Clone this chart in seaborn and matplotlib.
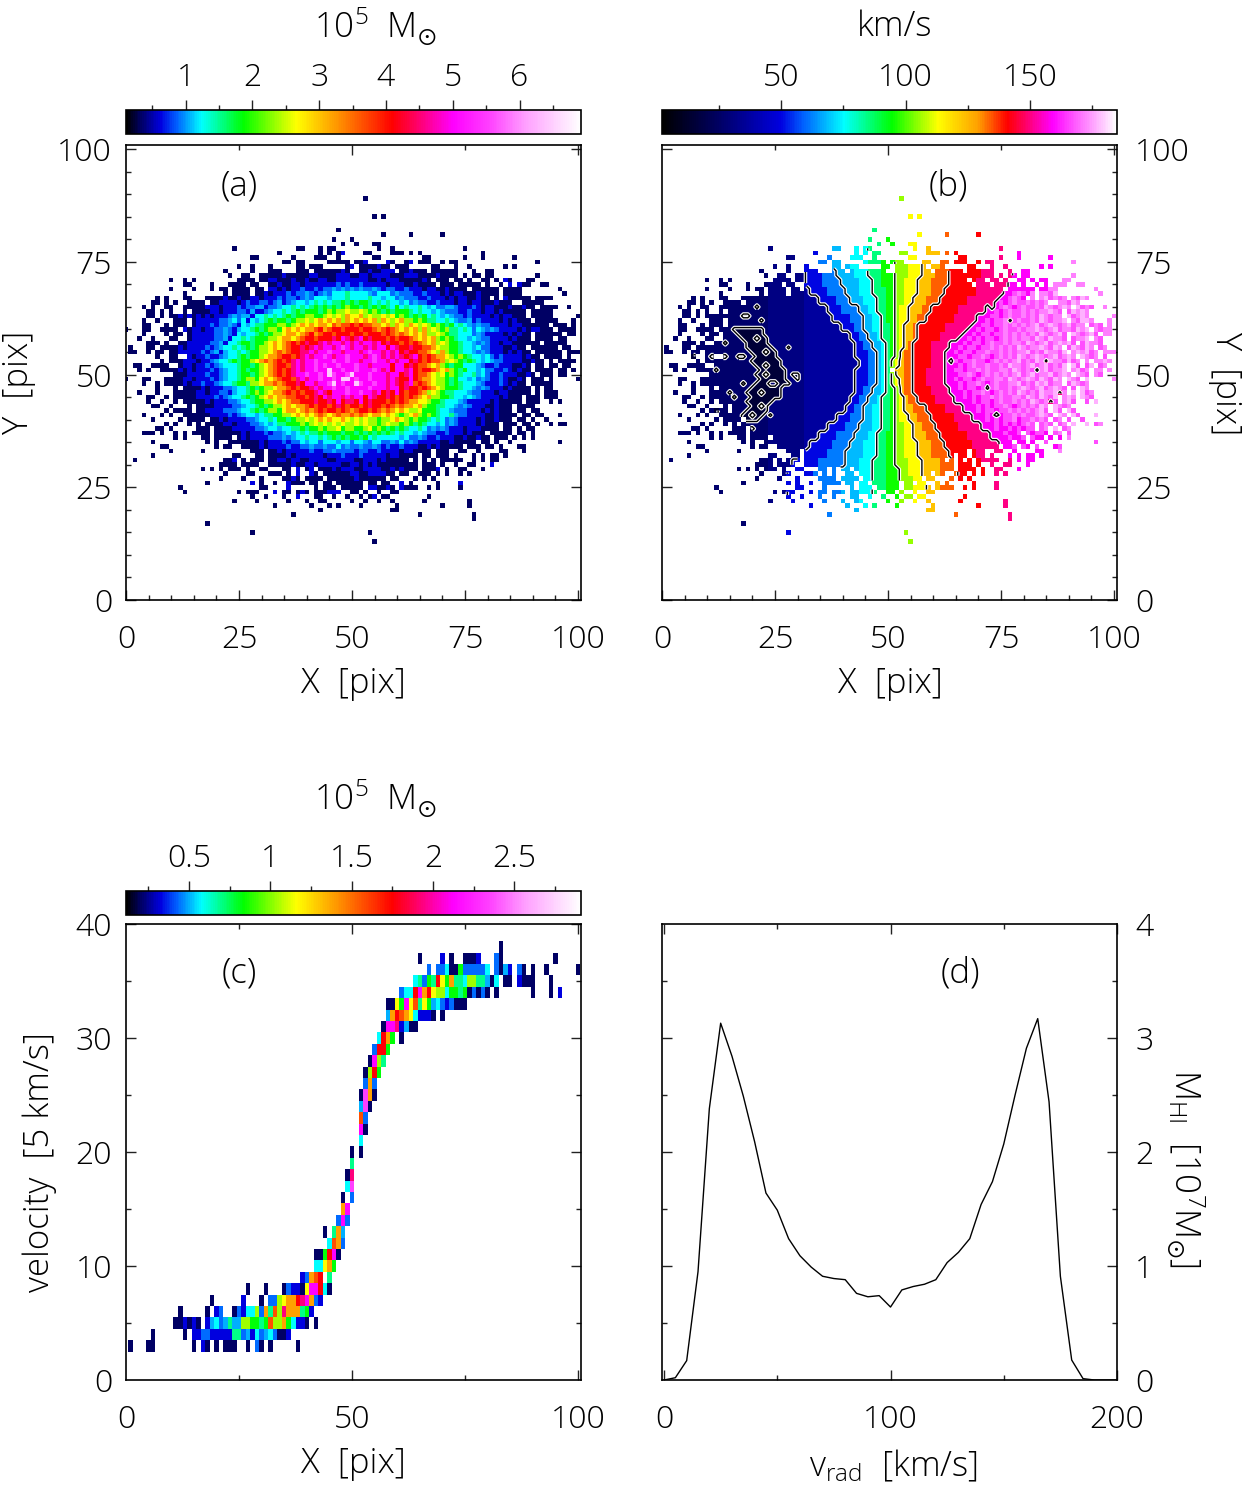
import numpy as np
import matplotlib
matplotlib.use('Agg')
import matplotlib.pyplot as plt
import seaborn as sns
from matplotlib.colors import LinearSegmentedColormap
from matplotlib.transforms import Affine2D

sns.set_style('white')
plt.rcParams['font.family'] = ['Open Sans', 'DejaVu Sans']
plt.rcParams['font.weight'] = 'light'
plt.rcParams['mathtext.fontset'] = 'custom'
plt.rcParams['mathtext.rm'] = 'Open Sans:light'
plt.rcParams['mathtext.default'] = 'regular'
plt.rcParams['text.color'] = 'black'
plt.rcParams['xtick.labelcolor'] = 'black'
plt.rcParams['ytick.labelcolor'] = 'black'

# letter codes used in the cell tables, as a place on the colour bar
LEVEL_FRAC = {'n': .035, 'b': .075, 'a': .115, 'l': .14, 'c': .165, 't': .21, 'g': .257, 'y': .33,
              'Y': .374, 'o': .455, 'f': .52, 'r': .586, 'm': .65, 'M': .72, 'p': .80, 'w': .93}
MASS_RANGE = (0.107, 6.92)
PV_RANGE = (0.112, 2.91)
VEL_RANGE = (2.07, 185)

# panel (a), outskirts: Y -> (first X, cells)
MASS_ROWS = {
    89: (53, "n"),
    85: (55, "n.n"),
    82: (47, "n"),
    81: (57, "n.....n......n"),
    80: (46, "n...n"),
    79: (48, "n..n...nn"),
    78: (24, "n.............nn...n.nn.........n..n...............n"),
    77: (34, "n........n.n.nb....nn....nnn.n.n.............n"),
    76: (28, "nn.......n....nnn..n.......nn.........nn.......n...n......n"),
    75: (35, "nn.nn.....nnnnn.nnb....bn..nb.nnn..n.nn.................n"),
    74: (25, "n..n...n.....nn.nnn.....nb.nnnnbnn.nnn.....nn...n..n.......n.n"),
    73: (22, "n.....n...nnn...nnn.nnnnnnbn..nnbnnbbb.nnbnnn.nnnnnn...n..nn"),
    72: (23, "n..nn..nnnnnbnnnnnbbnnnnbbbnnbbnbbbbnnnbbbnnnnbnnnn.n.nn.nn.........n"),
    30: (21, "nnnn.nnnn..nnnnnbnnbbnbbbbbnnbbnbnbnnnnnnnnn.nnn.n..n..nn...b"),
    29: (17, "n.n.n.nnn.n..nn...nn.b.nb.nnnbnbbbnnbbbbnnbnbnnn.nnnb.n..nn...n"),
    28: (22, "n....nn...nnn.n.b..bn.nnnnnnbbnnbbbbnn.nn..nnn.n.n..n.n"),
    27: (21, "n....n...n....nnbn.nnnn.nnnnnnbnnnnnn.nn...n.n.n"),
    26: (18, "n.........b.n..n..bnnn.nn.nn.nnnnnn.nn.nn..b.n.....n....b"),
    25: (12, "n.................nn....b.....n.nnn.nnnnn.bbnnbn.bnnn..n.n....n"),
    24: (13, "n...........n.nnn...b.nn.nbn.nnnbbb..nn.n..n..nn"),
    23: (28, "n..n...n..b...nn..n..n..n.nb.nn........n"),
    22: (24, "n....n......n...n..nn.....n..n..n..n......n.........n"),
    21: (33, "n.......n...n.n....n.......n.........n.....n"),
    20: (43, "n...............nn"),
    19: (37, "n...........................n...........n"),
    18: (77, "n"),
    17: (18, "n"),
    15: (28, "n.........................n"),
    13: (55, "n"),
}

# panel (a), main body: Y -> cells left of X=50.5 | cells right of it
CORE_ROWS = {
    71: "n..n.n.........nnnn.nnbbnnnbnnbnnbbnnbbbb|bbbnnbnbbbnnnnnbn.nnn.nn.n..nn.n.bn...nn..........n",
    70: "nn....n...nnnn.nn..nnbnnbbnbbbbbbbabab|babbbbbnbbbnnbnnnn.nnn.nnnnn.n..n.b.bnn..nn",
    69: "n....n...n.nn.nnnn.nn.bbnbnbbabbabaalalal|alaalabaabbabbbnbbnnbnnnn.nnnnnn.nnnn........n",
    68: "n........n.nnnn.nnbnbbbabaalabalaccctc|ccclacccalaaabbabbbnbnbbnnnbnnnn.nnnn.........n",
    67: "n.n...nn...nnnnbnnbnnbbnbbbabaabalaccclccctc|ccctcclccalaaabbabbbnbnbbnnbnn.n.bnnnnn.nnnn",
    66: "nn.n.n..nnnn.nnbbbbnbabbaabalbalcclctctcttgtg|tggtctctcclcalaabbabbbnbbnbbnnnbnnn..nnnnn",
    65: "n.n..nn..nnnnnbbbnbbbabaallbaalcctctctgtgtgtgyg|gtgtgtgtcgctcctclcaallabbbabnbbnnnbnnbnn.nnnn..n",
    64: "nn.n.n..n.nnnnbbnbbbaablbbalcctctgtgggtgygyyYy|yYygygtgtgggtctcclclaaabbabbnbbnbnnnnn.nnnnn",
    63: "nn.n.nnbnbnbnbnbbbalallbcctctctgtggyyggyYyYyoY|YoyYyyYyYgygtgtgctclclaababbbbnbnbbnnn.nnnnn.....n",
    62: "n..n...nnn.nbbbbbaalcacbclctgtggtgyyYyYoYoYoyoY|oYoYoyoYyYoyygygttcctclaalbabbbbnbnbnnn.nnnnn...n",
    61: "nn...n.nnn.nbbbabaalabclcttgggyygyYoYoYooYfoffr|frffooYoyoYyoYyYygygtgctclalaabbbbnbbnnnnnn.nnn.n.nn",
    60: "n...nn..nnnn.bnbbnbbaalablcctgtgyygYoYoYoofrofrrfrr|rfrrfofrfoYoYoyoyYygyttctcaclalabbbbnbnbbnnn.nnnn.nn",
    59: "n....n.nn.nbbbbbaalabclcctgtgyyYooYofrofrrfrrrf|rrfrrrfrfofoYoYoyyYygttcccalabbbbnbnbnn.nnnnnn.nn",
    58: "n..n...nn..nbbbbbaalbcctctgggyyYooYofrrfrrrmrMmr|mMrmrrrfrfrrfoYoYoygygtcclclaabbbbnbnnn.nnnn.nn...n.n",
    57: "nnn.n..nnbbbbbaalbcctggtggyYoYofrfrmrrmMmMMmMm|MmMMmMrmrrfrfrfoYoyYyggtcclalabbnbbnnnnnn.nnnnn",
    56: "n...nn.nnnnbnbbbbabalcctctgtgyyYoYofrrmrmMmMMmMpMm|MMmMmMMrMmrrmrrffoYyyggtcclcaabbbnnbnn.nnnnnn.nn",
    55: "nn..n.nn.nnbbbbbabalblcctctggyyYofofrrmmMmMMpMMmMM|MmMpMMmMmMrmrrffoYyoyggtcclalabbbnbnbnn.nnnnnn.nnnn",
    54: "n..nn..bnbbabbalcctgtggyYoofrrfrmMmMMpMmMMpM|MMmMpMmMmMmrmMrfrfooYygygtcclcababbbbnbnn.nnnn.n",
    53: "n.nnnbbbnbbalcctgtggyYofofrfrmMmMMpMMMpMMpM|MmMMpMMmMmMMrmrfrffoyYygtgtclclaabbbbnnbnn.n.nnnn",
    52: "nn..nnnn..nbbnbbabalccctggtgyYofrrfmMmMMpMpMMpMMM|pMMmMMMMrMMrmrffoYoygtggccclabbabbbnnbn.nn.nn.nn",
    51: "n.n..nnnnbnbnbbbabalcctgtggyYofrfrmMmMMpMMwMMpMM|pMMMpMmMrMMmMrfrrfoYoygtgcclcaabbabnbnn.nnnn.nn.n",
    50: "nnnbbbbabbalcctggtgyYofrfrmMMpMMpMwpMMpw|MMMpMMMmMMrmMrffoYyYgygtcctlcabbabbbnnbn.nnn.nn",
    49: "n...nn...nnnnbbnbbbabalcctgyygYoYofrrfmMmMMpMMpMwwM|pMMpMMMmMmrrMrfooYyygtgcclcalabbabnnbn.nnn.n.....n",
    48: "n..n.nnnnbnbbabbalcctggtyyYoofofrrmrMMmMMpwMpMM|wpMMpMMmMmrmMfrfoYyygtgtccclabbbabnbnn.nnnnn",
    47: "n...n.nnnnbnbbbaalcctgtgyyYoofrfrrmMmMMpMMpM|MMMpMMMmMMrmrrfrfoYygggtcclalabbbnbnnnn.n.nn",
    46: "n...n...nnnnnbbnbbaablcctgygyYoofrfrfrrmMmrMMMpM|MpMMmMrmrMrfrrfoyYygttccclaabbbnbbnnnnn.n.nnn",
    45: "nn..n.nnnnnbbbbabalcctgtgyYoYooffrrfrmrMmMMmMm|MMrMmrrmrfrfrfoYoyyggtcclclabbbbnbnnn.nnn.nnn",
    44: "n..n..n.nnnnnbnbbbaalcctggyyYoYoffrrrmrrmrMrmm|rMrmrrrfrfrfooYYyggtccclabbbbbnbnnnnn.nnn..n.n",
    43: "nn..n...n.nnnnbbbbaalcctgtgyyYoYoofrfrrfrmrfr|rfrmrrfrfofooYoyggttcclalabbbnnbnnn.nnnn",
    42: "n.nnnn.nnbbbbaaalcctgtgyygYooYofofrfrrfrfo|frrfrfofoYoYyyYgggtcclaaabbbnbnbnnn.nn.nn",
    41: "n...n.n..nnnnnnbbbbabalcclcttggyyYoYoYofoYofoof|ofoYooYoYygyYoygygtcctlaabbbbnnbnnnn.nn.nn...n",
    40: "n.....n.nnnn.nnbnbbbbaalcctcggtgyyYyYoYoYYoYy|YyYyygyyYoYygyggtctcalabbbbnbnnbnnn.nn.n..n",
    39: "n.n..n.n.nnnnbbnbbbaalclcttgggygyYyYyYyYyy|YyYyygyYyygygtgtcclcalabbbbnbnnn.nnn.nn.n..n.nn",
    38: "nn.n.....nnn.nnnnbbbbbaalcclccttgtggygyyYgyy|ggyYgygtgtgtcctcalalabbbnbbbnnnn.nn.n.nn",
    37: "nnn.n..n.n.nnnn.nnnnnnbnbbbabaalclctcttgtgggtgg|tgtgtgtgtctcclclaabbabbbnbnnn.nnnnn.nn.n",
    36: "n.n...nn.nnnn.nbnbbbbaaalalcctcctctgtgtg|gtgctccccclcaalabbabbbnnbnnbnn.nnn.n.n.n",
    35: "n...........n.n..nnnnnnnbnbbbabaaclccaccclcca|cclaccaalacalabbbbbnnbnnnnn.nn.n..n..........n",
    34: "nn..........n.nn..nnnnbnbbbbabbaalaalaacala|alaalababbabbbnnbnbnnnnn.nnn.nn.n...nn",
    33: "n......n..........nnn.nnbnbbbbbabbaalaaaa|baabbabbbbnbbnnnn.nnn..nn..n....nn...n",
    32: "n.................nn...nn.nnnnbnbbbbbbnbbbabb|babbbbbnbbnnnn.nn.nnn.n...n.n.nn.n",
    31: "n...................nnb.n.nnn.nnbbnbbnnbbbbnnbbbb|nnbbbnbnnnnn.n.n.n.nnnnn..n.n.nn",
}

# panel (b): band letters, and for rows of Y the X where each band starts
VEL_BANDS = ['b', 'a', 'l', 'c', 't', 'g', 'y', 'Y', 'o', 'f', 'r', 'm', 'M', 'p']
BAND_SPEED = {'k': 15, 'n': 27, 'e': 31, 'N': 37, 'b': 50, 'a': 62, 'l': 68, 'c': 75, 't': 85, 'g': 95,
              'y': 105, 'Y': 113, 'o': 123, 'f': 134, 'r': 141, 'm': 150, 'M': 159, 'q': 167, 'p': 172, 'w': 177}
BAND_EDGES = {
    77: [32, 35, 38, 42, 46, 49, 52, 55, 59, 62, 65, 71, 78, 88],
    75: [32, 35, 38, 42, 46, 49, 52, 55, 58, 62, 65, 71, 78, 88],
    73: [32, 36, 39, 43, 46, 49, 52, 55, 58, 61, 64, 71, 78, 88],
    71: [32, 36, 40, 44, 47, 49, 52, 54, 57, 60, 64, 70, 77, 87],
    69: [33, 37, 41, 44, 47, 50, 52, 54, 57, 60, 63, 70, 76, 86],
    67: [35, 39, 42, 45, 48, 50, 52, 54, 56, 59, 62, 68, 75, 85],
    65: [37, 40, 44, 46, 48, 50, 52, 53, 55, 58, 60, 66, 72, 83],
    63: [38, 42, 45, 47, 49, 50, 52, 53, 55, 57, 59, 65, 70, 82],
    61: [40, 43, 45, 47, 49, 51, 52, 53, 54, 56, 57, 63, 69, 81],
    59: [42, 44, 46, 48, 49, 51, 52, 53, 54, 56, 57, 62, 67, 80],
    57: [43, 45, 47, 49, 50, 51, 52, 53, 54, 55, 56, 60, 64, 78],
    55: [43, 46, 48, 49, 50, 51, 52, 53, 53, 54, 56, 60, 63, 77],
    53: [44, 46, 48, 49, 50, 51, 51, 52, 53, 54, 56, 60, 63, 76],
    51: [43, 46, 48, 49, 50, 51, 51, 52, 52, 54, 56, 59, 63, 76],
    49: [43, 46, 48, 49, 50, 51, 51, 52, 53, 54, 56, 59, 63, 76],
    47: [43, 45, 47, 49, 50, 51, 52, 53, 53, 54, 56, 60, 64, 77],
    45: [42, 44, 46, 48, 49, 51, 52, 53, 54, 55, 57, 61, 65, 78],
    43: [41, 43, 45, 47, 49, 51, 52, 53, 54, 56, 59, 63, 67, 79],
    41: [39, 42, 45, 47, 49, 51, 52, 53, 55, 57, 60, 65, 69, 81],
    39: [37, 41, 44, 47, 49, 51, 52, 54, 56, 58, 61, 66, 71, 83],
    37: [35, 39, 43, 46, 48, 50, 52, 54, 56, 59, 62, 68, 73, 84],
    35: [33, 38, 42, 45, 48, 50, 52, 54, 57, 60, 63, 69, 75, 86],
    33: [32, 37, 41, 45, 48, 50, 52, 54, 57, 60, 64, 70, 77, 87],
    31: [29, 35, 41, 44, 47, 50, 52, 55, 58, 62, 65, 71, 78, 88],
    29: [28, 34, 40, 44, 47, 50, 53, 55, 58, 62, 66, 72, 79, 89],
    27: [28, 34, 40, 44, 47, 50, 53, 56, 59, 62, 66, 72, 79, 89],
}
# mottled receding side of panel (b): Y -> (first X, cells)
PINK_ROWS = {
    68: (78, "qpqMpqppqwpqpp"),
    67: (76, "MqpqMqpqpwqpqpppqwpqp"),
    66: (74, "MqMqpqqpqpqpwqppqwpqqpwqp"),
    65: (73, "MMqpqMqpqqpqwpqpwpqwqpqp"),
    64: (72, "MMqMqpqqpqpqppwpqpqwpwpqpqp"),
    63: (71, "MMqqMqpqqpqpqwpqppqwqpwpqppq"),
    62: (70, "MMqMqqpqqpqqpqwpqppwqpqwwpqpp"),
    61: (70, "MqqMqqpqpqpqpwqpwpqpwqppwqpqp"),
    60: (68, "MMqMqqMqpqqpqppwpqpwqppqwpwqpqp"),
    59: (68, "MqMqqMqqpqpqpqpqwpqpwqpwpqpwqpp"),
    58: (66, "MMqMqMqqMqpqpqppqwpqwppqwqppwqpqp"),
    57: (65, "MMqMqqMqpqqpqppqwpqpwqpwpwqpqwppqp"),
    56: (64, "MMqMqqMqqpqpqpqwpqppwpqwppqwpqwpqqp"),
    55: (64, "MqMqqMqqpqqpqpqppwqpqwppqwqpwpwqpqp"),
    54: (64, "MMqqMqqpqMqpqpqwpqpwpqpwqpwpqwpqpwq"),
    53: (64, "MqMqqpqqMqpqpqpwqpqwpqwppqwqpwpqppw"),
    52: (64, "MMqMqpqqpqqpqwppqpwqpwqpqwpwqpqwpqp"),
    51: (64, "MqqMqqpqpqqppqwpqpqwpwqppwqpwqpqppq"),
    50: (64, "MMqqpqMqpqpqpqpwqpwqppwqpwpqwpqwpqp"),
    49: (64, "MqMqqMqpqqppqwpqpwpqwpqwpqwpqpwqppq"),
    48: (64, "MMqMqqpqMqpqqppwqpqwpwqppwqwpqpwqpq"),
    47: (65, "MqMqqMqpqpqqpqpwpqpwqpwpqwqpwpqpwq"),
    46: (65, "MMqMqqpqMqpqpqwpqpqwppwqpqwpwqpqpw"),
    45: (66, "MqMqMqqpqpqqppqwpqwpqwqpwpqwpqpqw"),
    44: (67, "MMqMqqMqpqqpqpqwpqpwqppwqwpqpwqp"),
    43: (68, "MMqMqMqqpqMqpqpqwpqwpqpwpqwqpwq"),
    42: (69, "MqMqqMqqpqpqpqpwqpwqpwqpwqpqpq"),
    41: (70, "MMqMqMqqpqpqqpwpqpwpqwqpqpwqp"),
    40: (71, "MqMqMqqpMqqpqpqwqppqwpqwqpqw"),
    39: (72, "MMqMqMqMqpqMqpqwqpqwpqwpqpq"),
    38: (73, "MqMMqMqMqqMqpqwpqpwqpwqpqp"),
    37: (74, "MMqMMqMqMqqMqqpwqpwpqwqpq"),
    36: (75, "MMqMMqMqMMqMqMqpqwqpqwpq"),
    35: (76, "MMqMMqMqMqMMqqpqwpqwqp"),
    34: (77, "MqMqMMqMMqMqpqwqpqwq"),
}
# low-speed patch on the approaching side of panel (b): Y -> (first X, last X)
SLOW_SPANS = {60: (16, 22), 59: (17, 22), 58: (18, 23), 57: (19, 23), 56: (19, 24), 55: (20, 24), 54: (21, 25),
              53: (20, 26), 52: (21, 26), 51: (22, 27), 50: (21, 27), 49: (22, 27), 48: (21, 27), 47: (20, 26),
              46: (19, 26), 45: (20, 25), 44: (19, 24), 43: (20, 23), 42: (19, 23), 41: (18, 22), 40: (18, 21)}
# single cells that stand out from their surroundings in panel (b)
SLOW_CELLS = [(21, 65), (19, 63), (18, 63), (22, 62), (25, 55), (28, 56), (17, 54), (18, 54),
              (29, 50), (18, 48), (15, 46), (16, 45), (26, 45), (24, 41), (12, 42), (20, 38), (14, 57), (14, 54),
              (11, 54), (7, 54), (12, 51), (30, 50), (28, 48), (30, 49)]
ISLAND_CELLS = [(23, 52), (24, 48), (25, 48), (22, 46), (23, 55), (21, 58), (23, 50), (22, 43), (20, 41)]
DIP_CELLS = [(77, 62), (64, 53), (85, 53), (83, 51), (88, 46), (86, 44), (87, 41), (72, 47), (74, 41), (73, 65)]
VEL_HOLES = [(51, 51)]
CONTOUR_LEVELS = [20, 45, 65, 80, 100, 118, 137, 155]

# panel (c): velocity channel -> (first X, cells)
PV_ROWS = {
    3: (1, "n...nn........n.bn.n.nnn..n.an.n.....n"),
    4: (6, "n......n.bbaabbbbbttalbcalcannb"),
    5: (11, "nnbnbn.blcaltllyyggtgfyyogcbbn.n"),
    6: (12, "n.....n.ba..nabccyaotfymoootgb"),
    7: (19, "n......b...n.aayYoormMoab"),
    8: (27, "n...n...nabbnYMMrcn"),
    9: (39, "baofr.t"),
    10: (42, "ccYog"),
    11: (42, "nngrMn"),
    12: (45, "cfoa"),
    13: (44, "n.tol"),
    14: (47, "aMa"),
    15: (48, "oM"),
    16: (48, "n.a"),
    17: (49, "cp"),
    18: (49, "nm"),
    19: (50, "t"),
    20: (50, "n.n"),
    21: (52, "c"),
    22: (52, "Mn"),
    23: (52, "fa"),
    24: (52, "lpn"),
    25: (52, "npon"),
    26: (53, "aoa"),
    27: (53, "nyrg"),
    28: (54, "nMyt"),
    29: (55, "arrg"),
    30: (56, "crog.n"),
    31: (57, "nMMmblnn"),
    32: (58, "lorfoYcbbbn.n"),
    33: (58, "nnYgMYftYglcabannn"),
    34: (61, "accrMorYyycggtgnanan.n.......n...n.b"),
    35: (64, "ctagtrYgottcyyttlnc.nn.bnnn...n"),
    36: (67, "a.aacnngaaaaac.anlb.an.n..n......n"),
    37: (65, "n....b.n..nnnb...an...........n"),
    38: (83, "n"),
}

# panel (d): global profile
VRAD = [0, 5, 10, 15, 20, 25, 30, 35, 40, 45, 50, 55, 60, 65, 70, 75, 80, 85, 90, 95, 100,
        105, 110, 115, 120, 125, 130, 135, 140, 145, 150, 155, 160, 165, 170, 175, 180, 185, 190, 195, 200]
MHI = [0, .02, .17, .95, 2.38, 3.13, 2.84, 2.49, 2.09, 1.64, 1.49, 1.24, 1.09, .99, .91, .89, .88, .76, .73, .74, .64,
       .79, .82, .84, .88, 1.03, 1.12, 1.24, 1.54, 1.74, 2.07, 2.50, 2.91, 3.17, 2.44, .91, .175, .012, 0, 0, 0]

X_LABELS = [0, 25, 50, 75, 100]
Y_LABELS = [0, 25, 50, 75, 100]

W, H = 1246, 1485
FS = 23
LABEL_FS = 25

cmap_mass = LinearSegmentedColormap.from_list('mass', [
    (0, '#000000'), (.03, '#000060'), (.075, '#0000e0'), (.11, '#0060ff'), (.165, '#00ffff'),
    (.257, '#00ff00'), (.374, '#ffff00'), (.455, '#ffa000'), (.586, '#ff0000'), (.72, '#ff00ff'),
    (.80, '#ff40ff'), (.88, '#ffa0ff'), (1, '#ffffff')])
cmap_vel = LinearSegmentedColormap.from_list('vel', [
    (0, '#000000'), (.12, '#000060'), (.26, '#0000e0'), (.31, '#0060ff'), (.40, '#00ffff'),
    (.505, '#00ff00'), (.607, '#ffff00'), (.695, '#ffa000'), (.76, '#ff0000'), (.86, '#ff00ff'),
    (.93, '#ff80ff'), (1, '#ffffff')])


def box(left, top, right, bottom):
    return [left / W, 1 - bottom / H, (right - left) / W, (bottom - top) / H]


def px_text(x, y, s, **kw):
    kw.setdefault('ha', 'center')
    kw.setdefault('va', 'center')
    kw.setdefault('fontsize', LABEL_FS)
    fig.text(x / W, 1 - y / H, s, **kw)


def fill_rows(rows, lo, hi):
    grid = np.full((102, 102), np.nan)
    for y, (start, cells) in rows.items():
        for i, ch in enumerate(cells):
            if ch != '.' and start + i <= 100:
                grid[y, start + i] = lo + LEVEL_FRAC[ch] * (hi - lo)
    return grid


def side_ticks(ax, where, long, short=()):
    if where in ('top', 'bottom'):
        sec = ax.secondary_xaxis(where)
        axis = sec.xaxis
    else:
        sec = ax.secondary_yaxis(where)
        axis = sec.yaxis
    axis.set_ticks(long, labels=[])
    axis.set_ticks(short, minor=True)
    sec.tick_params(which='major', direction='in', length=7.4, width=1, color='#222222')
    sec.tick_params(which='minor', direction='in', length=3.7, width=1, color='#222222')
    for s in sec.spines.values():
        s.set_visible(False)


def cell_map(ax, cax, grid, cmap, vrange, long, short, labels):
    sns.heatmap(grid, cmap=cmap, vmin=vrange[0], vmax=vrange[1], ax=ax, cbar_ax=cax,
                cbar_kws={'orientation': 'horizontal'}, xticklabels=False, yticklabels=False)
    mesh = ax.collections[0]
    mesh.set_transform(Affine2D().translate(-0.5, -0.5) + ax.transData)
    mesh.set_antialiased(False)
    cb = mesh.colorbar
    cb.set_ticks(long, labels=labels)
    cb.ax.xaxis.set_ticks(short, minor=True)
    cb.ax.xaxis.set_ticks_position('top')
    cb.ax.tick_params(which='major', direction='out', length=7.4, width=1, pad=4, labelsize=FS, color='#222222')
    cb.ax.tick_params(which='minor', direction='out', length=3.7, width=1, color='#222222')
    cb.outline.set_visible(True)
    cb.outline.set_linewidth(1.2)
    cb.outline.set_edgecolor('black')


def frame(ax):
    for s in ax.spines.values():
        s.set_visible(True)
        s.set_linewidth(1.2)
        s.set_color('black')


all_mass_rows = dict(MASS_ROWS)
for y, cells in CORE_ROWS.items():
    left, right = cells.split('|')
    all_mass_rows[y] = (51 - len(left), left + right)
mass = fill_rows(all_mass_rows, *MASS_RANGE)
pv = fill_rows(PV_ROWS, *PV_RANGE)

vel = np.full((102, 102), np.nan)
for y in range(13, 90):
    key = min(max(y if y % 2 else y + 1, 27), 77)
    vel[y, 1:] = BAND_SPEED['n']
    vel[y, 24:] = BAND_SPEED['e']
    vel[y, 32:] = BAND_SPEED['N']
    for band, edge in zip(VEL_BANDS, BAND_EDGES[key]):
        vel[y, edge:] = BAND_SPEED[band]
for y, (start, cells) in PINK_ROWS.items():
    for i, ch in enumerate(cells):
        if start + i <= 100:
            vel[y, start + i] = BAND_SPEED[ch]
for y, (x0, x1) in SLOW_SPANS.items():
    vel[y, x0:x1 + 1] = BAND_SPEED['k']
for x, y in SLOW_CELLS:
    vel[y, x] = BAND_SPEED['k']
for x, y in ISLAND_CELLS:
    vel[y, x] = BAND_SPEED['n']
for x, y in DIP_CELLS:
    vel[y, x] = BAND_SPEED['m']
for x, y in VEL_HOLES:
    vel[y, x] = np.nan
vel[np.isnan(mass)] = np.nan

fig = plt.figure(figsize=(W / 100, H / 100), dpi=100, facecolor='white')

ax_a = fig.add_axes(box(126, 145, 581, 600))
cax_a = fig.add_axes(box(126, 110, 581, 134))
ax_b = fig.add_axes(box(662, 145, 1117, 600))
cax_b = fig.add_axes(box(662, 110, 1117, 134))
ax_c = fig.add_axes(box(126, 924, 581, 1380))
cax_c = fig.add_axes(box(126, 891, 581, 915))
ax_d = fig.add_axes(box(662, 924, 1117, 1380))

cell_map(ax_a, cax_a, mass, cmap_mass, MASS_RANGE, [1, 2, 3, 4, 5, 6], [.5, 1.5, 2.5, 3.5, 4.5, 5.5, 6.5],
         ['1', '2', '3', '4', '5', '6'])
cell_map(ax_b, cax_b, vel, cmap_vel, VEL_RANGE, [50, 100, 150], [25, 75, 125, 175], ['50', '100', '150'])
cell_map(ax_c, cax_c, pv, cmap_mass, PV_RANGE, [.5, 1, 1.5, 2, 2.5], [.25, .75, 1.25, 1.75, 2.25, 2.75],
         ['0.5', '1', '1.5', '2', '2.5'])

grid_xy = np.arange(102)
vel_ma = np.ma.masked_invalid(vel)
ax_b.contour(grid_xy, grid_xy, vel_ma, levels=CONTOUR_LEVELS, colors='white', linewidths=2.6)
ax_b.contour(grid_xy, grid_xy, vel_ma, levels=CONTOUR_LEVELS, colors='black', linewidths=1.0)

sns.lineplot(x=VRAD, y=MHI, color='black', linewidth=1, ax=ax_d)
ax_d.set_xlabel('')
ax_d.set_ylabel('')

fives = [v for v in range(5, 100, 5) if v % 25]
for ax in (ax_a, ax_b):
    ax.set_xlim(0, 100.66)
    ax.set_ylim(0, 100.9)
    ax.set_xticks(X_LABELS, labels=[str(v) for v in X_LABELS])
    ax.set_yticks(Y_LABELS, labels=[str(v) for v in Y_LABELS])
    side_ticks(ax, 'bottom', X_LABELS, fives)
    side_ticks(ax, 'top', [50, 100], [25, 75])
ax_a.tick_params(axis='y', labelleft=True, length=0, pad=10, labelsize=FS)
ax_b.yaxis.tick_right()
ax_b.tick_params(axis='y', labelright=True, length=0, pad=13, labelsize=FS)
side_ticks(ax_a, 'left', Y_LABELS, fives)
side_ticks(ax_a, 'right', Y_LABELS)
side_ticks(ax_b, 'left', Y_LABELS)
side_ticks(ax_b, 'right', Y_LABELS, fives)

ax_c.set_xlim(0, 100.66)
ax_c.set_ylim(0, 40)
ax_c.set_xticks([0, 50, 100], labels=['0', '50', '100'])
ax_c.set_yticks([0, 10, 20, 30, 40], labels=['0', '10', '20', '30', '40'])
ax_c.tick_params(axis='y', length=0, pad=10, labelsize=FS)
for side in ('bottom', 'top'):
    side_ticks(ax_c, side, [50, 100], [25, 75])
for side in ('left', 'right'):
    side_ticks(ax_c, side, [10, 20, 30, 40], [5, 15, 25, 35])

ax_d.set_xlim(-0.9, 200)
ax_d.set_ylim(0, 4)
ax_d.set_xticks([0, 100, 200], labels=['0', '100', '200'])
ax_d.yaxis.tick_right()
ax_d.set_yticks([0, 1, 2, 3, 4], labels=['0', '1', '2', '3', '4'])
ax_d.tick_params(axis='y', labelright=True, length=0, pad=13, labelsize=FS)
for side in ('bottom', 'top'):
    side_ticks(ax_d, side, [0, 100, 200], [50, 150])
for side in ('left', 'right'):
    side_ticks(ax_d, side, [1, 2, 3], [.5, 1.5, 2.5, 3.5])

for ax in (ax_a, ax_b, ax_c, ax_d):
    ax.tick_params(axis='x', length=0, pad=17, labelsize=FS)
    frame(ax)

sun_mass = r'$10^{5}$  M$_{\odot}$'
px_text(375, 27, sun_mass)
px_text(895, 27, 'km/s')
px_text(375, 799, sun_mass)
px_text(239, 186, '(a)')
px_text(948, 186, '(b)')
px_text(239, 973, '(c)')
px_text(960, 973, '(d)')
px_text(353, 684, 'X  [pix]')
px_text(890, 684, 'X  [pix]')
px_text(353, 1464, 'X  [pix]')
px_text(893, 1466, r'v$_{rad}$  [km/s]')
px_text(19, 383, 'Y  [pix]', rotation=90)
px_text(1225, 383, 'Y  [pix]', rotation=-90)
px_text(40, 1162, 'velocity  [5 km/s]', rotation=90)
px_text(1185, 1168, r'M$_{HI}$  [$10^{7}$M$_{\odot}$]', rotation=-90)

fig.savefig('out.png', dpi=100, facecolor='white')
